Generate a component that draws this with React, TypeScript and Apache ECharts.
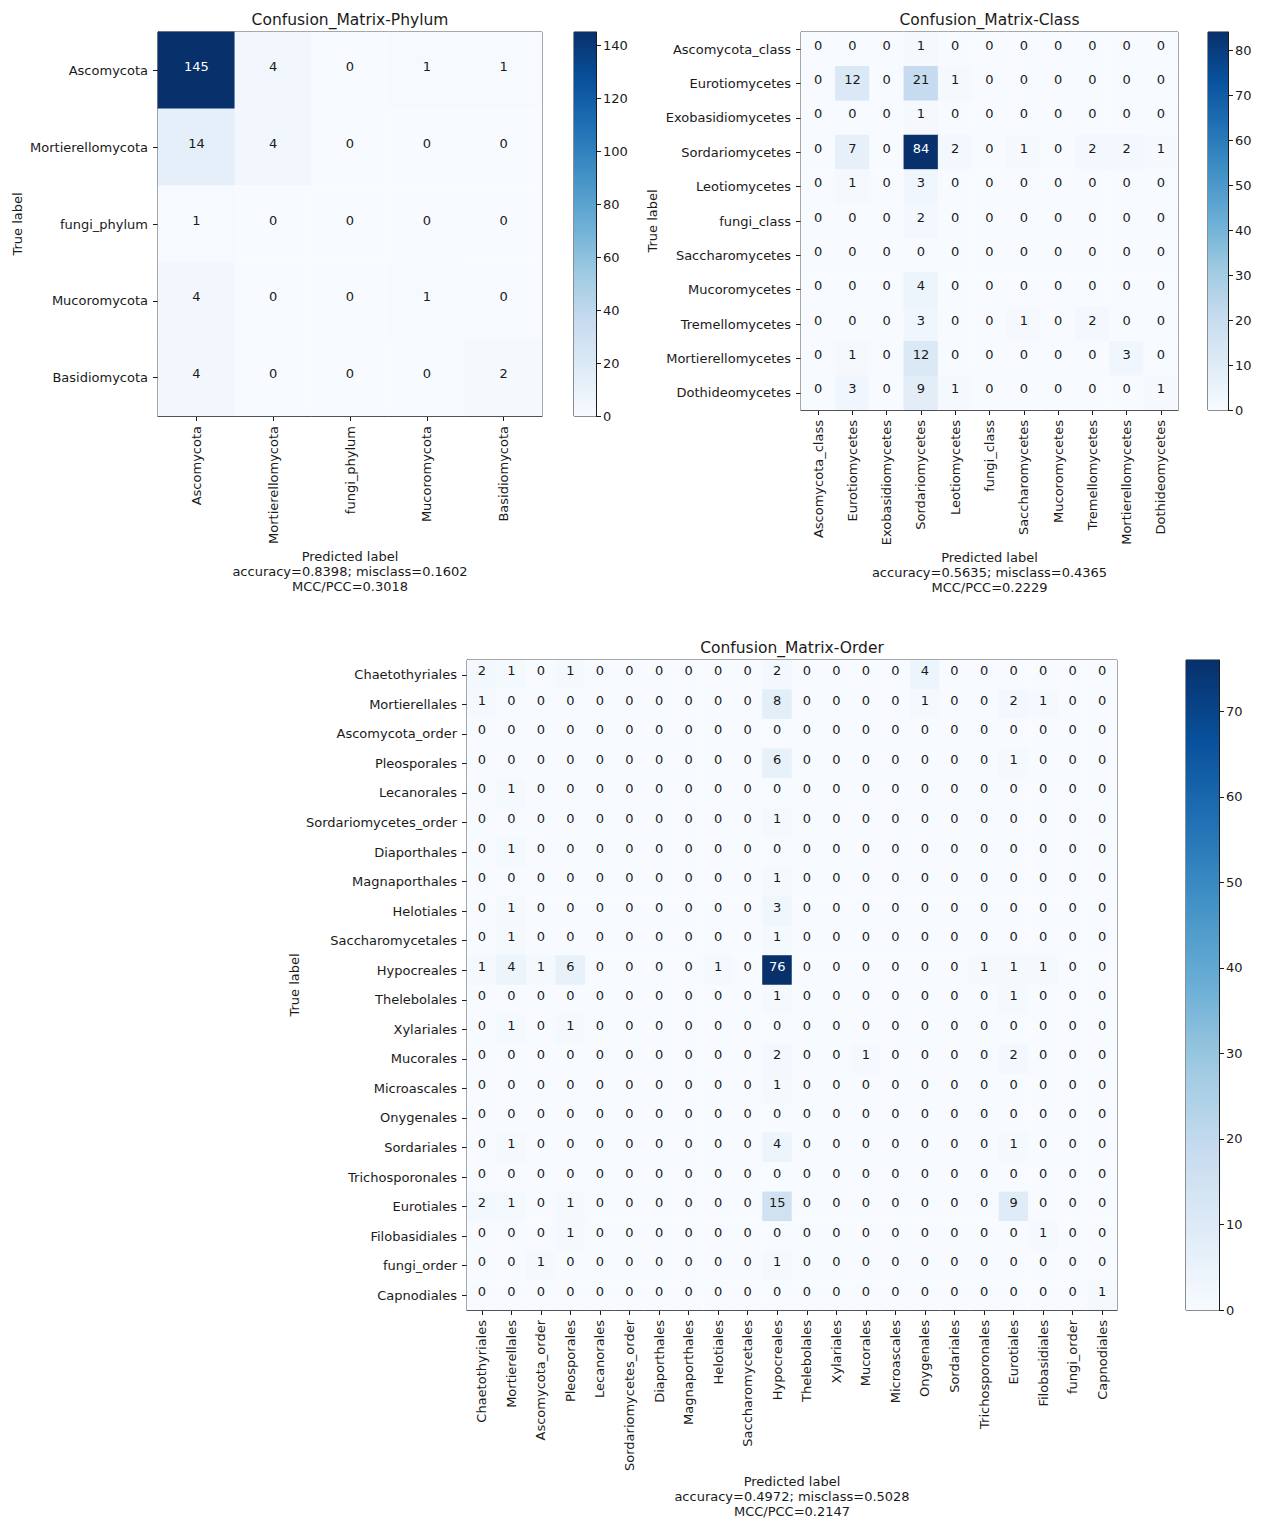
import React, { useEffect, useRef } from "react";
import * as echarts from "echarts";

// ---- Phylum ----
const phylumLabels = ["Ascomycota", "Mortierellomycota", "fungi_phylum", "Mucoromycota", "Basidiomycota"];
const phylumMatrix = [
  [145, 4, 0, 1, 1],
  [14, 4, 0, 0, 0],
  [1, 0, 0, 0, 0],
  [4, 0, 0, 1, 0],
  [4, 0, 0, 0, 2],
];
const phylumStats = ["Predicted label", "accuracy=0.8398; misclass=0.1602", "MCC/PCC=0.3018"];
const phylumTicks = [0, 20, 40, 60, 80, 100, 120, 140];

// ---- Class ----
const classLabels = [
  "Ascomycota_class", "Eurotiomycetes", "Exobasidiomycetes", "Sordariomycetes", "Leotiomycetes",
  "fungi_class", "Saccharomycetes", "Mucoromycetes", "Tremellomycetes", "Mortierellomycetes", "Dothideomycetes",
];
const classMatrix = [
  [0, 0, 0, 1, 0, 0, 0, 0, 0, 0, 0],
  [0, 12, 0, 21, 1, 0, 0, 0, 0, 0, 0],
  [0, 0, 0, 1, 0, 0, 0, 0, 0, 0, 0],
  [0, 7, 0, 84, 2, 0, 1, 0, 2, 2, 1],
  [0, 1, 0, 3, 0, 0, 0, 0, 0, 0, 0],
  [0, 0, 0, 2, 0, 0, 0, 0, 0, 0, 0],
  [0, 0, 0, 0, 0, 0, 0, 0, 0, 0, 0],
  [0, 0, 0, 4, 0, 0, 0, 0, 0, 0, 0],
  [0, 0, 0, 3, 0, 0, 1, 0, 2, 0, 0],
  [0, 1, 0, 12, 0, 0, 0, 0, 0, 3, 0],
  [0, 3, 0, 9, 1, 0, 0, 0, 0, 0, 1],
];
const classStats = ["Predicted label", "accuracy=0.5635; misclass=0.4365", "MCC/PCC=0.2229"];
const classTicks = [0, 10, 20, 30, 40, 50, 60, 70, 80];

// ---- Order ----
const orderLabels = [
  "Chaetothyriales", "Mortierellales", "Ascomycota_order", "Pleosporales", "Lecanorales",
  "Sordariomycetes_order", "Diaporthales", "Magnaporthales", "Helotiales", "Saccharomycetales",
  "Hypocreales", "Thelebolales", "Xylariales", "Mucorales", "Microascales", "Onygenales",
  "Sordariales", "Trichosporonales", "Eurotiales", "Filobasidiales", "fungi_order", "Capnodiales",
];
const orderMatrix = [
  [2, 1, 0, 1, 0, 0, 0, 0, 0, 0, 2, 0, 0, 0, 0, 4, 0, 0, 0, 0, 0, 0],
  [1, 0, 0, 0, 0, 0, 0, 0, 0, 0, 8, 0, 0, 0, 0, 1, 0, 0, 2, 1, 0, 0],
  [0, 0, 0, 0, 0, 0, 0, 0, 0, 0, 0, 0, 0, 0, 0, 0, 0, 0, 0, 0, 0, 0],
  [0, 0, 0, 0, 0, 0, 0, 0, 0, 0, 6, 0, 0, 0, 0, 0, 0, 0, 1, 0, 0, 0],
  [0, 1, 0, 0, 0, 0, 0, 0, 0, 0, 0, 0, 0, 0, 0, 0, 0, 0, 0, 0, 0, 0],
  [0, 0, 0, 0, 0, 0, 0, 0, 0, 0, 1, 0, 0, 0, 0, 0, 0, 0, 0, 0, 0, 0],
  [0, 1, 0, 0, 0, 0, 0, 0, 0, 0, 0, 0, 0, 0, 0, 0, 0, 0, 0, 0, 0, 0],
  [0, 0, 0, 0, 0, 0, 0, 0, 0, 0, 1, 0, 0, 0, 0, 0, 0, 0, 0, 0, 0, 0],
  [0, 1, 0, 0, 0, 0, 0, 0, 0, 0, 3, 0, 0, 0, 0, 0, 0, 0, 0, 0, 0, 0],
  [0, 1, 0, 0, 0, 0, 0, 0, 0, 0, 1, 0, 0, 0, 0, 0, 0, 0, 0, 0, 0, 0],
  [1, 4, 1, 6, 0, 0, 0, 0, 1, 0, 76, 0, 0, 0, 0, 0, 0, 1, 1, 1, 0, 0],
  [0, 0, 0, 0, 0, 0, 0, 0, 0, 0, 1, 0, 0, 0, 0, 0, 0, 0, 1, 0, 0, 0],
  [0, 1, 0, 1, 0, 0, 0, 0, 0, 0, 0, 0, 0, 0, 0, 0, 0, 0, 0, 0, 0, 0],
  [0, 0, 0, 0, 0, 0, 0, 0, 0, 0, 2, 0, 0, 1, 0, 0, 0, 0, 2, 0, 0, 0],
  [0, 0, 0, 0, 0, 0, 0, 0, 0, 0, 1, 0, 0, 0, 0, 0, 0, 0, 0, 0, 0, 0],
  [0, 0, 0, 0, 0, 0, 0, 0, 0, 0, 0, 0, 0, 0, 0, 0, 0, 0, 0, 0, 0, 0],
  [0, 1, 0, 0, 0, 0, 0, 0, 0, 0, 4, 0, 0, 0, 0, 0, 0, 0, 1, 0, 0, 0],
  [0, 0, 0, 0, 0, 0, 0, 0, 0, 0, 0, 0, 0, 0, 0, 0, 0, 0, 0, 0, 0, 0],
  [2, 1, 0, 1, 0, 0, 0, 0, 0, 0, 15, 0, 0, 0, 0, 0, 0, 0, 9, 0, 0, 0],
  [0, 0, 0, 1, 0, 0, 0, 0, 0, 0, 0, 0, 0, 0, 0, 0, 0, 0, 0, 1, 0, 0],
  [0, 0, 1, 0, 0, 0, 0, 0, 0, 0, 1, 0, 0, 0, 0, 0, 0, 0, 0, 0, 0, 0],
  [0, 0, 0, 0, 0, 0, 0, 0, 0, 0, 0, 0, 0, 0, 0, 0, 0, 0, 0, 0, 0, 1],
];
const orderStats = ["Predicted label", "accuracy=0.4972; misclass=0.5028", "MCC/PCC=0.2147"];
const orderTicks = [0, 10, 20, 30, 40, 50, 60, 70];

// matplotlib "Blues" colormap anchors
const BLUES = ["#f7fbff", "#deebf7", "#c6dbef", "#9ecae1", "#6baed6", "#4292c6", "#2171b5", "#08519c", "#08306b"];

const FONT = "DejaVu Sans";
const INK = "#1a1a1a";

type Panel = {
  title: string;
  labels: string[];
  matrix: number[][];
  stats: string[];
  ticks: number[];
  grid: { left: number; top: number; width: number; height: number };
  bar: { left: number; width: number };
  trueLabelX: number;
  statsY: number;
};

const panels: Panel[] = [
  {
    title: "Confusion_Matrix-Phylum",
    labels: phylumLabels,
    matrix: phylumMatrix,
    stats: phylumStats,
    ticks: phylumTicks,
    grid: { left: 158, top: 32, width: 384, height: 384 },
    bar: { left: 574, width: 22 },
    trueLabelX: 17,
    statsY: 556,
  },
  {
    title: "Confusion_Matrix-Class",
    labels: classLabels,
    matrix: classMatrix,
    stats: classStats,
    ticks: classTicks,
    grid: { left: 801, top: 32, width: 377, height: 378 },
    bar: { left: 1208, width: 20 },
    trueLabelX: 652,
    statsY: 557,
  },
  {
    title: "Confusion_Matrix-Order",
    labels: orderLabels,
    matrix: orderMatrix,
    stats: orderStats,
    ticks: orderTicks,
    grid: { left: 467, top: 660, width: 650, height: 650 },
    bar: { left: 1186, width: 33 },
    trueLabelX: 294,
    statsY: 1481,
  },
];

function buildOption() {
  const grids: any[] = [];
  const xAxes: any[] = [];
  const yAxes: any[] = [];
  const series: any[] = [];
  const visualMaps: any[] = [];
  const graphics: any[] = [];

  panels.forEach((p) => {
    const vmax = Math.max(...p.matrix.flat());
    const thresh = vmax / 2;

    // matrix grid
    const gi = grids.length;
    grids.push({
      ...p.grid,
      show: true,
      borderColor: INK,
      borderWidth: 1,
      backgroundColor: "transparent",
      containLabel: false,
    });
    xAxes.push({
      type: "category",
      gridIndex: gi,
      data: p.labels,
      position: "bottom",
      axisLine: { show: true, lineStyle: { color: INK, width: 1 } },
      axisTick: { show: true, alignWithLabel: true, length: 5, lineStyle: { color: INK } },
      axisLabel: { rotate: 90, margin: 10, color: INK, fontFamily: FONT, fontSize: 13, interval: 0 },
      splitLine: { show: false },
    });
    yAxes.push({
      type: "category",
      gridIndex: gi,
      data: p.labels,
      inverse: true,
      axisLine: { show: true, lineStyle: { color: INK, width: 1 } },
      axisTick: { show: true, alignWithLabel: true, length: 5, lineStyle: { color: INK } },
      axisLabel: { margin: 10, color: INK, fontFamily: FONT, fontSize: 13, interval: 0 },
      splitLine: { show: false },
    });

    const data: any[] = [];
    p.matrix.forEach((row, i) =>
      row.forEach((v, j) => {
        data.push({ value: [j, i, v], label: { color: v > thresh ? "#ffffff" : INK } });
      })
    );
    const si = series.length;
    series.push({
      type: "heatmap",
      xAxisIndex: gi,
      yAxisIndex: gi,
      data,
      label: {
        show: true,
        fontFamily: FONT,
        fontSize: 13,
        offset: [0, -4],
        formatter: (d: any) => String(d.value[2]),
      },
      itemStyle: { borderWidth: 0 },
      emphasis: { disabled: true },
    });
    visualMaps.push({
      type: "continuous",
      show: false,
      min: 0,
      max: vmax,
      dimension: 2,
      seriesIndex: si,
      inRange: { color: BLUES },
    });

    // colour bar
    const bi = grids.length;
    grids.push({
      left: p.bar.left,
      top: p.grid.top,
      width: p.bar.width,
      height: p.grid.height,
      show: true,
      borderColor: INK,
      borderWidth: 1,
      backgroundColor: "transparent",
    });
    xAxes.push({
      type: "category",
      gridIndex: bi,
      data: [""],
      axisLine: { show: false },
      axisTick: { show: false },
      axisLabel: { show: false },
    });
    yAxes.push({
      type: "value",
      gridIndex: bi,
      min: 0,
      max: vmax,
      position: "right",
      axisLine: { show: true, lineStyle: { color: INK, width: 1 } },
      axisTick: { show: true, length: 5, lineStyle: { color: INK }, customValues: p.ticks },
      axisLabel: { margin: 7, color: INK, fontFamily: FONT, fontSize: 13, customValues: p.ticks },
      splitLine: { show: false },
    });
    const stops = BLUES.slice()
      .reverse()
      .map((c, k) => ({ offset: k / (BLUES.length - 1), color: c }));
    series.push({
      type: "bar",
      xAxisIndex: bi,
      yAxisIndex: bi,
      data: [vmax],
      barWidth: "100%",
      silent: true,
      itemStyle: {
        color: { type: "linear", x: 0, y: 0, x2: 0, y2: 1, colorStops: stops },
      },
    });

    // title
    const cx = p.grid.left + p.grid.width / 2;
    graphics.push({
      type: "text",
      x: cx,
      y: p.grid.top - 12,
      style: {
        text: p.title,
        fill: INK,
        font: `15.5px '${FONT}'`,
        textAlign: "center",
        textVerticalAlign: "middle",
      },
    });
    // y-axis name
    graphics.push({
      type: "text",
      x: p.trueLabelX,
      y: p.grid.top + p.grid.height / 2,
      rotation: Math.PI / 2,
      style: {
        text: "True label",
        fill: INK,
        font: `13px '${FONT}'`,
        textAlign: "center",
        textVerticalAlign: "middle",
      },
    });
    // x-axis name and scores
    p.stats.forEach((line, k) => {
      graphics.push({
        type: "text",
        x: cx,
        y: p.statsY + k * 15,
        style: {
          text: line,
          fill: INK,
          font: `13px '${FONT}'`,
          textAlign: "center",
          textVerticalAlign: "middle",
        },
      });
    });
  });

  return {
    animation: false,
    backgroundColor: "#ffffff",
    textStyle: { fontFamily: FONT },
    grid: grids,
    xAxis: xAxes,
    yAxis: yAxes,
    visualMap: visualMaps,
    series,
    graphic: graphics,
  };
}

export default function App() {
  const ref = useRef<HTMLDivElement>(null);
  useEffect(() => {
    if (!ref.current) return;
    const chart = echarts.init(ref.current, undefined, { renderer: "svg" });
    chart.setOption(buildOption() as any);
    return () => chart.dispose();
  }, []);
  return (
    <div
      ref={ref}
      style={{ position: "absolute", left: 0, top: 0, width: 1261, height: 1520, background: "#fff" }}
    />
  );
}
